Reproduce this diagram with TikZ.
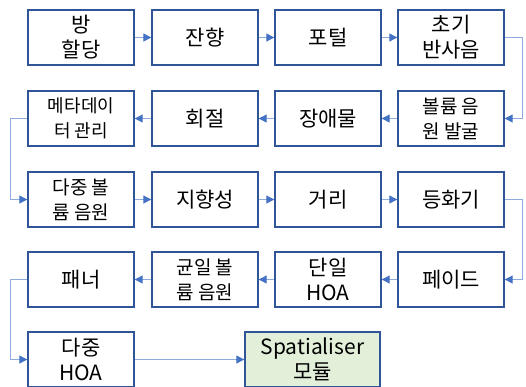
\documentclass[tikz,border=0pt]{standalone}
\usepackage{fontspec}
\setmainfont{Noto Sans CJK KR}
\usetikzlibrary{arrows.meta}
\definecolor{boxline}{HTML}{2F5597}
\definecolor{connline}{HTML}{8FAADC}
\definecolor{tipcol}{HTML}{4472C4}
\definecolor{greenfill}{HTML}{E2F0D9}
\begin{document}
\begin{tikzpicture}[x=1pt,y=-1pt,
  stepbox/.style={draw=boxline, line width=1.4pt, fill=white, minimum width=106pt, minimum height=55pt,
    inner sep=0pt, align=center, font=\fontsize{21}{25}\selectfont},
  smallbox/.style={stepbox, font=\fontsize{19}{25}\selectfont},
  tinybox/.style={stepbox, font=\fontsize{18}{25}\selectfont},
  greenbox/.style={stepbox, fill=greenfill, minimum width=135pt},
  conn/.style={draw=connline, line width=1.1pt, -{Triangle[length=8pt,width=8pt,color=tipcol]}}]
\clip (0,0) rectangle (526,386);
\fill[white] (0,0) rectangle (526,386);
% row 1
\node[stepbox] (a1) at (81,37.5) {방\\할당};
\node[stepbox] (a2) at (205,37.5) {잔향};
\node[stepbox] (a3) at (328,37.5) {포털};
\node[stepbox] (a4) at (451,37.5) {초기\\반사음};
% row 2
\node[tinybox] (b1) at (81,118.5) {메타데이\\터 관리};
\node[stepbox] (b2) at (205,118.5) {회절};
\node[stepbox] (b3) at (328,118.5) {장애물};
\node[smallbox] (b4) at (451,118.5) {볼륨 음\\원 발굴};
% row 3
\node[smallbox] (c1) at (81,199.5) {다중 볼\\륨 음원};
\node[stepbox] (c2) at (205,199.5) {지향성};
\node[stepbox] (c3) at (328,199.5) {거리};
\node[stepbox] (c4) at (451,199.5) {등화기};
% row 4
\node[stepbox] (d1) at (81,279.5) {패너};
\node[smallbox] (d2) at (205,279.5) {균일 볼\\륨 음원};
\node[stepbox] (d3) at (328,279.5) {단일\\HOA};
\node[stepbox] (d4) at (451,279.5) {페이드};
% row 5
\node[stepbox] (e1) at (81,359.5) {다중\\HOA};
\node[greenbox] (s) at (312.5,359.5) {Spatialiser\\모듈};
% connectors
\draw[conn] (a1.east) -- (a2.west);
\draw[conn] (a2.east) -- (a3.west);
\draw[conn] (a3.east) -- (a4.west);
\draw[conn] (a4.east) -- ++(18,0) |- (b4.east);
\draw[conn] (b4.west) -- (b3.east);
\draw[conn] (b3.west) -- (b2.east);
\draw[conn] (b2.west) -- (b1.east);
\draw[conn] (b1.west) -- ++(-17,0) |- (c1.west);
\draw[conn] (c1.east) -- (c2.west);
\draw[conn] (c2.east) -- (c3.west);
\draw[conn] (c3.east) -- (c4.west);
\draw[conn] (c4.east) -- ++(18,0) |- (d4.east);
\draw[conn] (d4.west) -- (d3.east);
\draw[conn] (d3.west) -- (d2.east);
\draw[conn] (d2.west) -- (d1.east);
\draw[conn] (d1.west) -- ++(-17,0) |- (e1.west);
\draw[conn] (e1.east) -- (s.west);
\end{tikzpicture}
\end{document}
